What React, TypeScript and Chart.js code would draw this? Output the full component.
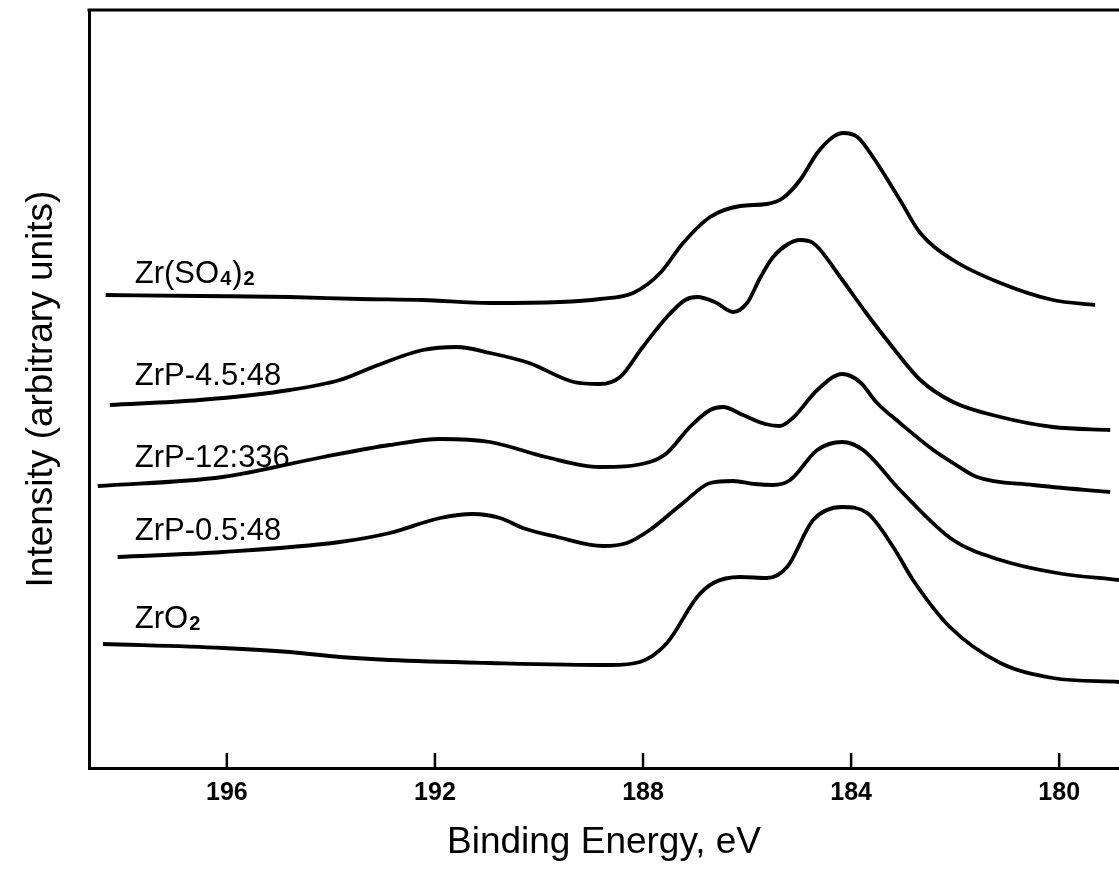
import React, { useEffect, useRef } from "react";
import { Chart, registerables } from "chart.js";

Chart.register(...registerables);

const FONT = "'Liberation Sans', Arial, Helvetica, sans-serif";

// Axis setup (binding energy in eV, reversed axis)
const xTickValues = [196, 192, 188, 184, 180];
const xMinEnergy = 178.85;
const xMaxEnergy = 198.65;
const yMinIntensity = 0;
const yMaxIntensity = 75.8;
const xAxisTitle = "Binding Energy, eV";
const yAxisTitle = "Intensity (arbitrary units)";

// Series names ("_n" marks a subscript in the drawn label)
const seriesNames = ["Zr(SO4)2", "ZrP-4.5:48", "ZrP-12:336", "ZrP-0.5:48", "ZrO2"];
const seriesLabelTexts = ["Zr(SO_4)_2", "ZrP-4.5:48", "ZrP-12:336", "ZrP-0.5:48", "ZrO_2"];
const seriesLabelEnergy = [197.77, 197.77, 197.77, 197.77, 197.77];
const seriesLabelIntensity = [48.5, 38.3, 30.1, 22.8, 14.0];

// Zr(SO4)2
const zrSO4Energy = [198.33, 196.52, 194.79, 193.44, 192.23, 190.94, 189.6, 188.83, 188.19, 187.67, 187.23, 186.71, 186.13, 185.62, 185.31, 184.98, 184.65, 184.35, 184.15, 183.88, 183.58, 183.06, 182.67, 182.04, 181.13, 180.12, 179.31];
const zrSO4Intensity = [47.3, 47.2, 47.1, 46.9, 46.8, 46.5, 46.6, 46.9, 47.5, 49.5, 52.5, 55.1, 56.2, 56.4, 57.0, 58.8, 61.5, 63.1, 63.5, 63.1, 61.1, 56.8, 53.5, 50.8, 48.5, 46.8, 46.3];

// ZrP-4.5:48
const zrP45Energy = [198.25, 196.52, 194.79, 193.83, 193.19, 192.23, 191.58, 190.94, 190.19, 189.33, 188.83, 188.44, 188.02, 187.54, 187.19, 186.96, 186.62, 186.27, 186.0, 185.75, 185.5, 185.21, 184.98, 184.73, 184.21, 183.71, 183.19, 182.67, 182.04, 181.13, 180.12, 179.02];
const zrP45Intensity = [36.3, 36.8, 37.8, 38.8, 40.1, 41.8, 42.1, 41.5, 40.5, 38.6, 38.4, 39.1, 42.0, 45.1, 46.8, 47.1, 46.6, 45.6, 46.5, 49.0, 51.1, 52.4, 52.8, 52.5, 49.1, 45.5, 42.0, 38.8, 36.6, 35.1, 34.1, 33.8];

// ZrP-12:336
const zrP12Energy = [198.48, 196.08, 194.15, 192.87, 191.9, 190.94, 189.87, 188.83, 187.87, 187.54, 187.1, 186.71, 186.46, 186.08, 185.65, 185.37, 185.12, 184.65, 184.17, 183.83, 183.5, 183.06, 182.42, 182.04, 181.58, 180.5, 179.02];
const zrP12Intensity = [28.2, 29.1, 31.1, 32.3, 32.9, 32.6, 31.1, 30.1, 30.6, 31.5, 34.1, 35.8, 36.1, 35.3, 34.4, 34.2, 35.0, 37.8, 39.4, 38.6, 36.5, 34.5, 31.8, 30.5, 29.1, 28.3, 27.6];

// ZrP-0.5:48
const zrP05Energy = [198.1, 196.08, 193.83, 192.87, 191.9, 191.27, 190.75, 190.31, 189.65, 188.77, 188.31, 187.87, 187.23, 186.71, 186.27, 185.85, 185.5, 185.17, 184.65, 184.17, 183.77, 183.06, 182.04, 181.13, 180.04, 178.85];
const zrP05Intensity = [21.1, 21.6, 22.6, 23.5, 25.0, 25.4, 25.0, 24.0, 23.1, 22.2, 22.5, 23.8, 26.5, 28.5, 28.7, 28.4, 28.3, 28.8, 31.8, 32.6, 31.8, 27.8, 22.8, 20.8, 19.5, 18.8];

// ZrO2
const zrO2Energy = [198.38, 196.08, 194.79, 193.83, 192.87, 190.94, 188.63, 188.06, 187.54, 186.96, 186.65, 186.13, 185.62, 185.23, 184.73, 184.17, 183.69, 183.19, 182.81, 182.1, 181.13, 180.12, 178.85];
const zrO2Intensity = [12.4, 12.0, 11.6, 11.1, 10.8, 10.5, 10.3, 10.6, 12.5, 17.1, 18.5, 19.1, 19.0, 20.1, 24.8, 26.1, 25.5, 22.1, 18.8, 14.1, 10.5, 9.0, 8.6];

const seriesEnergy = [zrSO4Energy, zrP45Energy, zrP12Energy, zrP05Energy, zrO2Energy];
const seriesIntensity = [zrSO4Intensity, zrP45Intensity, zrP12Intensity, zrP05Intensity, zrO2Intensity];

function drawFormula(ctx: CanvasRenderingContext2D, text: string, x: number, y: number, size: number) {
  const parts = text.split(/(_\d)/).filter((p) => p.length > 0);
  let cx = x;
  for (const p of parts) {
    if (p.startsWith("_")) {
      const s = p.slice(1);
      ctx.font = `bold ${Math.round(size * 0.66)}px ${FONT}`;
      ctx.fillText(s, cx + 1, y + size * 0.08);
      cx += ctx.measureText(s).width + 2;
    } else {
      ctx.font = `${size}px ${FONT}`;
      ctx.fillText(p, cx, y);
      cx += ctx.measureText(p).width;
    }
  }
}

const decorPlugin = {
  id: "decor",
  afterDraw(chart: any) {
    const { ctx, chartArea, scales } = chart;
    const xs = scales.x;
    const ys = scales.y;
    ctx.save();
    ctx.strokeStyle = "#000";
    ctx.fillStyle = "#000";
    // top frame line
    ctx.lineWidth = 3;
    ctx.beginPath();
    ctx.moveTo(chartArea.left - 1.5, chartArea.top);
    ctx.lineTo(chartArea.right, chartArea.top);
    ctx.stroke();
    // inward tick marks
    ctx.lineWidth = 2.5;
    for (const t of xs.ticks) {
      const px = xs.getPixelForValue(t.value);
      ctx.beginPath();
      ctx.moveTo(px, chartArea.bottom);
      ctx.lineTo(px, chartArea.bottom - 15);
      ctx.stroke();
    }
    // curve labels
    ctx.textAlign = "left";
    ctx.textBaseline = "alphabetic";
    for (let i = 0; i < seriesLabelTexts.length; i++) {
      const px = xs.getPixelForValue(seriesLabelEnergy[i]);
      const py = ys.getPixelForValue(seriesLabelIntensity[i]);
      drawFormula(ctx, seriesLabelTexts[i], px, py, 31);
    }
    ctx.restore();
  },
};

export default function App() {
  const canvasRef = useRef<HTMLCanvasElement | null>(null);

  useEffect(() => {
    if (!canvasRef.current) return;
    const chart = new Chart(canvasRef.current, {
      type: "line",
      data: {
        datasets: seriesNames.map((name, i) => ({
          label: name,
          data: seriesEnergy[i].map((e, j) => ({ x: e, y: seriesIntensity[i][j] })),
          borderColor: "#000",
          borderWidth: 3.8,
          pointRadius: 0,
          fill: false,
          cubicInterpolationMode: "monotone" as const,
        })),
      },
      options: {
        animation: false,
        responsive: true,
        maintainAspectRatio: false,
        events: [],
        layout: { padding: { top: 10, right: 0, bottom: 0, left: 0 } },
        plugins: {
          legend: { display: false },
          tooltip: { enabled: false },
        },
        scales: {
          x: {
            type: "linear",
            position: "bottom",
            reverse: true,
            min: xMinEnergy,
            max: xMaxEnergy,
            afterBuildTicks: (scale: any) => {
              scale.ticks = xTickValues.map((v) => ({ value: v }));
            },
            afterFit: (scale: any) => {
              scale.height = 104;
            },
            grid: { display: false, drawTicks: false },
            border: { display: true, color: "#000", width: 3 },
            ticks: {
              color: "#000",
              padding: 10,
              maxRotation: 0,
              autoSkip: false,
              font: { family: FONT, size: 25, weight: "bold" },
              callback: (v: any) => String(v),
            },
            title: {
              display: true,
              text: xAxisTitle,
              color: "#000",
              font: { family: FONT, size: 37 },
              padding: { top: 0, bottom: 7 },
            },
          },
          y: {
            type: "linear",
            position: "left",
            min: yMinIntensity,
            max: yMaxIntensity,
            afterFit: (scale: any) => {
              scale.width = 89;
            },
            grid: { display: false, drawTicks: false },
            border: { display: true, color: "#000", width: 3 },
            ticks: { display: false },
            title: {
              display: true,
              text: yAxisTitle,
              color: "#000",
              font: { family: FONT, size: 37 },
              padding: { top: 20, bottom: 0 },
            },
          },
        },
      },
      plugins: [decorPlugin],
    });
    return () => chart.destroy();
  }, []);

  return (
    <div
      style={{
        position: "fixed",
        left: 0,
        top: 0,
        width: 1119,
        height: 872,
        background: "#fff",
        overflow: "hidden",
      }}
    >
      <canvas ref={canvasRef} />
    </div>
  );
}
